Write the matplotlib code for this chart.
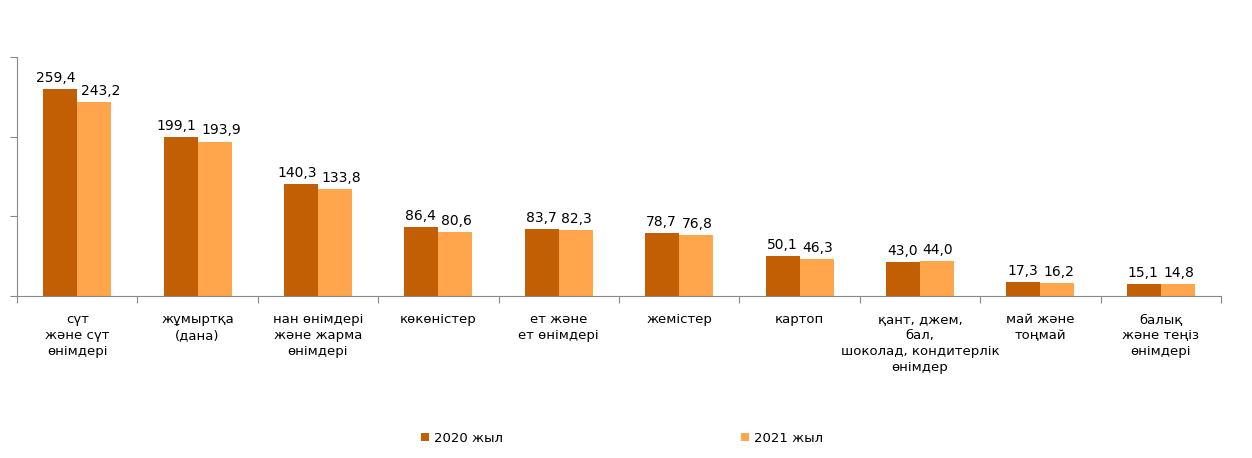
import matplotlib
matplotlib.use("Agg")
import matplotlib.pyplot as plt
import numpy as np

categories = [
    "сүт\nжәне сүт\nөнімдері",
    "жұмыртқа\n(дана)",
    "нан өнімдері\nжәне жарма\nөнімдері",
    "көкөністер",
    "ет және\nет өнімдері",
    "жемістер",
    "картоп",
    "қант, джем,\nбал,\nшоколад, кондитерлік\nөнімдер",
    "май және\nтоңмай",
    "балық\nжәне теңіз\nөнімдері",
]
values_2020 = [259.4, 199.1, 140.3, 86.4, 83.7, 78.7, 50.1, 43.0, 17.3, 15.1]
values_2021 = [243.2, 193.9, 133.8, 80.6, 82.3, 76.8, 46.3, 44.0, 16.2, 14.8]
series_names = ["2020 жыл", "2021 жыл"]

c_dark = "#C25F05"
c_light = "#FFA54C"

plt.rcParams['font.family'] = ['DejaVu Sans']
fig = plt.figure(figsize=(12.52, 4.58), dpi=100)
ax = fig.add_axes([17/1252, 1 - 296/458, (1221-17)/1252, (296-57)/458])

x = np.arange(len(categories))
w = 0.283
b1 = ax.bar(x - w/2, values_2020, w, color=c_dark, label=series_names[0])
b2 = ax.bar(x + w/2, values_2021, w, color=c_light, label=series_names[1])

def fmt(v):
    return f"{v:.1f}".replace(".", ",")

labels = []
for bars, vals in ((b1, values_2020), (b2, values_2021)):
    row = []
    for r, v in zip(bars, vals):
        t = ax.annotate(fmt(v), (r.get_x() + r.get_width()/2, v), xytext=(0, 3),
                        textcoords="offset points", ha="center", va="bottom",
                        fontsize=10, color="#000000")
        row.append(t)
    labels.append(row)

ax.set_xlim(-0.5, len(categories) - 0.5)
ax.set_ylim(0, 300)
ax.set_yticks([0, 100, 200, 300])
ax.set_yticklabels([])
ax.tick_params(axis="y", direction="out", length=5, color="#888888", width=0.8)

ax.set_xticks(x)
ax.set_xticklabels(categories, fontsize=9.5, linespacing=1.3, va="top")
ax.tick_params(axis="x", which="major", length=0, pad=12)
ax.set_xticks(np.arange(-0.5, len(categories), 1.0), minor=True)
ax.tick_params(axis="x", which="minor", direction="out", length=5, color="#888888", width=0.8)

for s in ("top", "right"):
    ax.spines[s].set_visible(False)
ax.spines["left"].set_color("#888888")
ax.spines["bottom"].set_color("#888888")
ax.spines["left"].set_linewidth(0.8)
ax.spines["bottom"].set_linewidth(0.8)

fig.legend(handles=[b1, b2], labels=series_names, loc="center",
           bbox_to_anchor=(622/1252, 1 - 438/458), ncol=2, frameon=False,
           fontsize=9.5, handlelength=0.6, handleheight=0.6, handletextpad=0.4,
           columnspacing=18)

# push apart value labels that would collide (as the source chart does)
fig.canvas.draw()
renderer = fig.canvas.get_renderer()
px2pt = 72.0 / fig.dpi
for t1, t2 in zip(labels[0], labels[1]):
    bb1 = t1.get_window_extent(renderer)
    bb2 = t2.get_window_extent(renderer)
    vert = bb1.y0 < bb2.y1 + 2 and bb2.y0 < bb1.y1 + 2
    need = bb1.x1 + 5 - bb2.x0
    if vert and need > 0:
        t1.xyann = (-need * 0.4 * px2pt, t1.xyann[1])
        t2.xyann = (need * 0.6 * px2pt, t2.xyann[1])

fig.savefig("out.png", dpi=100)
